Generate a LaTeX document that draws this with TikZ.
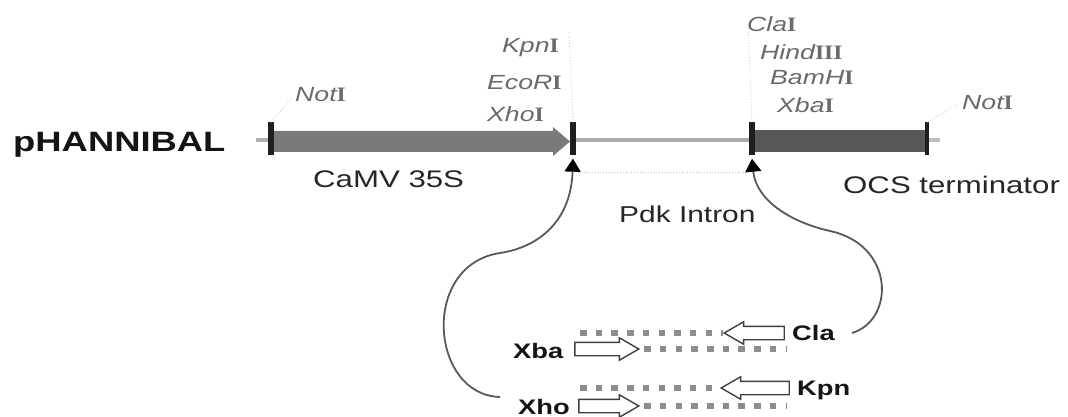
\documentclass[tikz,border=0pt]{standalone}
\usepackage{fontspec}
\setmainfont{Liberation Sans}[FakeStretch=1.3]
\newfontfamily\rnum{Liberation Serif}[FakeStretch=1.15]
\usetikzlibrary{arrows.meta,shapes.arrows}
\definecolor{promo}{HTML}{7A7A7A}
\definecolor{term}{HTML}{575757}
\definecolor{intron}{HTML}{ABABAB}
\definecolor{enzgray}{HTML}{6A6A6A}
\newcommand{\rI}{{\rnum\upshape\bfseries I}}
\begin{document}
\begin{tikzpicture}[x=1pt,y=-1pt,
  sitetick/.style={fill=black!88, draw=none, minimum width=5.5pt, minimum height=33pt, inner sep=0pt},
  leader/.style={draw=black!22, dotted, line width=0.8pt},
  enz/.style={font=\fontsize{20.5}{22}\selectfont\itshape, text=enzgray, anchor=base west, inner sep=0pt},
  part/.style={font=\fontsize{24}{26}\selectfont, text=black!85, anchor=base west, inner sep=0pt},
  primlab/.style={font=\bfseries\fontsize{21}{23}\selectfont, text=black!92, anchor=base west, inner sep=0pt},
  dotrow/.style={draw=black!45, line width=5.5pt, dash pattern=on 6.5pt off 9.2pt},
  hollow/.style={single arrow, draw=black!75, fill=white, line width=1.4pt, inner xsep=0pt, inner ysep=6pt,
     minimum width=0pt, single arrow head extend=4.5pt, single arrow tip angle=60},
  bendarrow/.style={draw=black!65, line width=1.8pt, -{Triangle[width=16pt,length=13pt,color=black]}},
]
\fill[white] (0,0) rectangle (1068,417);
\useasboundingbox (0,0) rectangle (1068,417);

% title
\node[font=\bfseries\fontsize{28}{30}\selectfont, text=black!92, anchor=base west, inner sep=0pt] (title) at (13,152) {pHANNIBAL};

% thin axis pieces
\draw[line width=4.5pt, draw=black!30] (256,140) -- (272,140);
\draw[line width=4.5pt, draw=intron] (575,140) -- (751,140);
\draw[line width=4pt, draw=black!25] (928,140) -- (940,140);

% CaMV 35S promoter arrow
\fill[promo] (273,131) -- (553,131) -- (553,127) -- (570,141.5) -- (553,156) -- (553,152) -- (273,152) -- cycle;
% OCS terminator bar
\fill[term] (754,130) rectangle (926,152);

% site ticks
\node[sitetick] (t1) at (271,139) {};
\node[sitetick] (t2) at (573,139) {};
\node[sitetick] (t3) at (752,139) {};
\node[sitetick, minimum width=4pt] (t4) at (927,139) {};

% parts
\node[part] (camv) at (313,187) {CaMV 35S};
\node[part, font=\fontsize{23}{25}\selectfont] (pdk) at (619,222) {Pdk Intron};
\node[part] (ocs) at (843,193) {OCS terminator};
\draw[leader] (578,172) -- (745,172);

% enzyme labels
\node[enz] (not1) at (295,102) {Not\rI};
\node[enz] (kpn1) at (502,53) {Kpn\rI};
\node[enz] (eco1) at (487,90) {EcoR\rI};
\node[enz] (xho1) at (487,122) {Xho\rI};
\node[enz] (cla1) at (747,32) {Cla\rI};
\node[enz] (hind) at (760,60) {Hind{\rnum\upshape\bfseries III}};
\node[enz] (bam1) at (770,85) {BamH\rI};
\node[enz] (xba1) at (777,113) {Xba\rI};
\node[enz] (not2) at (962,110) {Not\rI};

% leader lines
\draw[leader] (t1.north) -- (292,98);
\draw[leader] (t2.north) -- (569,30);
\draw[leader] (t3.north) -- (748,22);
\draw[leader] (t4.north) -- (958,104);

% primer constructs
\node[hollow, minimum height=60pt, shape border rotate=180] (clar) at (760,333) {};
\node[primlab] (cla) at (792,340) {Cla};
\node[hollow, minimum height=64pt] (xbar) at (601,349) {};
\node[primlab] (xba) at (513,358) {Xba};
\draw[dotrow] (580,333) -- (clar.tip);
\draw[dotrow] (xbar.tip) ++(4,0) -- (787,349);

\node[hollow, minimum height=68pt, shape border rotate=180] (kpnr) at (761,388) {};
\node[primlab] (kpn) at (797,395) {Kpn};
\node[hollow, minimum height=60pt] (xhor) at (603,406) {};
\node[primlab] (xho) at (518,414) {Xho};
\draw[dotrow] (580,388) -- (kpnr.tip);
\draw[dotrow] (xhor.tip) ++(4,0) -- (787,406);

% insertion arrows
\coordinate (lstart) at (500,397);
\coordinate (rstart) at (852,333);
\draw[bendarrow] (lstart) .. controls (430,395) and (420,265) .. (500,253)
   .. controls (540,247) and (571,220) .. ([yshift=-3pt]t2.south);
\draw[bendarrow] (rstart) .. controls (895,320) and (895,245) .. (830,231)
   .. controls (790,222) and (756,200) .. ([yshift=-3pt]t3.south);
\end{tikzpicture}
\end{document}
